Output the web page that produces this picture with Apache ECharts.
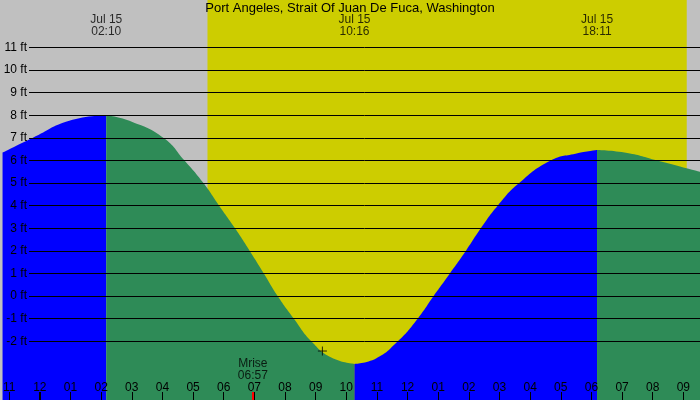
<!DOCTYPE html>
<html>
<head>
<meta charset="utf-8">
<script src="https://cdn.jsdelivr.net/npm/echarts@6/dist/echarts.min.js"></script>
<style>
  html, body { margin: 0; padding: 0; background: #c0c0c0; }
  #main { width: 700px; height: 400px; }
</style>
</head>
<body>
<div id="main"></div>
<script>
var FONT = 'Liberation Sans';

// axis ranges (hours from Jul 15 00:00, feet)
var xMin = -1.2177, xMax = 21.543;
var yMin = -4.597, yMax = 13.102;

var hourTicks = [-1,0,1,2,3,4,5,6,7,8,9,10,11,12,13,14,15,16,17,18,19,20,21];
var ftTicks = [-2,-1,0,1,2,3,4,5,6,7,8,9,10,11];

// daylight
var sunrise = 5.47, sunset = 21.11;

// tide curve, split into flood / ebb parts
var riseA = [[-1.218,6.35],[-0.242,7.0],[0.961,7.76],[2.167,8.0]];
var fallA = [[2.167,8.0],[3.0,7.72],[4.04,7],[4.72,6],[5.34,5],[5.85,4],[6.37,3],[6.85,2],[7.31,1],[7.76,0],[8.29,-1],[8.86,-2],[9.51,-2.72],[10.267,-3.0]];
var riseB = [[10.267,-3.0],[10.97,-2.76],[11.68,-2],[12.33,-1],[12.85,0],[13.38,1],[13.90,2],[14.39,3],[14.94,4],[15.64,5],[16.67,6],[17.48,6.3],[18.183,6.46]];
var fallB = [[18.183,6.46],[19.17,6.33],[20.14,6],[21.543,5.5]];

// high / low times
var extremeTimes = [2.167, 10.267, 18.183];
var extremeLabels = ['02:10', '10:16', '18:11'];
var extremeDate = 'Jul 15';

// moon
var moonrise = 6.95, moonriseLabel = '06:57';
var moonMark = [9.22, -2.43];

function hourFmt(v) {
    var h = ((Math.round(v) % 12) + 12) % 12;
    if (h === 0) h = 12;
    return (h < 10 ? '0' : '') + h;
}

function tideSeries(data, color) {
    return {
        type: 'line',
        xAxisIndex: 0, yAxisIndex: 0,
        data: data,
        smooth: 0.5,
        showSymbol: false,
        lineStyle: {width: 0},
        areaStyle: {color: color, opacity: 1, origin: 'start'},
        z: 3,
        silent: true
    };
}

function tickAxis(values, color, width, z) {
    return {
        gridIndex: 0, type: 'value', min: xMin, max: xMax, position: 'bottom', z: z,
        axisLine: {show: false, onZero: false},
        splitLine: {show: false},
        axisTick: {customValues: values, inside: true, length: 8, lineStyle: {color: color, width: width}},
        axisLabel: {show: false}
    };
}

var myChart = echarts.init(document.getElementById('main'));

var hourAxis = tickAxis(hourTicks, '#000', 1, 5);
hourAxis.axisLabel = {customValues: hourTicks, inside: true, margin: 6, formatter: hourFmt,
    color: '#000', fontFamily: FONT, fontSize: 12};

var option = {
    backgroundColor: '#c0c0c0',
    animation: false,
    title: {
        text: 'Port Angeles, Strait Of Juan De Fuca, Washington',
        left: 'center',
        top: 2,
        padding: 0,
        textStyle: {fontFamily: FONT, fontSize: 13, fontWeight: 'normal', color: '#000'}
    },
    grid: [
        {left: 0, right: 0, top: 0, bottom: 0},
        {left: 29, right: 0, top: 0, bottom: 0}
    ],
    xAxis: [
        hourAxis,
        tickAxis([0], '#000', 2, 6),
        tickAxis([moonrise], '#ff0000', 2, 6),
        {gridIndex: 1, type: 'value', min: xMin, max: xMax, show: false, axisLine: {onZero: false}}
    ],
    yAxis: [
        {gridIndex: 0, type: 'value', min: yMin, max: yMax, show: false},
        {
            gridIndex: 1, type: 'value', min: yMin, max: yMax, z: 5,
            axisLine: {show: false},
            axisTick: {show: false},
            splitLine: {show: false},
            axisLabel: {customValues: ftTicks, margin: 2, formatter: '{value} ft',
                color: '#000', fontFamily: FONT, fontSize: 12}
        }
    ],
    series: [
        {
            // daylight band
            type: 'line', xAxisIndex: 0, yAxisIndex: 0, data: [], z: 1, silent: true,
            markArea: {
                silent: true,
                itemStyle: {color: '#cdcd00'},
                data: [[{xAxis: sunrise}, {xAxis: sunset}]]
            }
        },
        {
            // foot lines
            type: 'line', xAxisIndex: 3, yAxisIndex: 1, data: [], z: 2, silent: true,
            markLine: {
                silent: true,
                symbol: 'none',
                label: {show: false},
                lineStyle: {color: '#000', width: 1, type: 'solid'},
                data: ftTicks.map(function (v) { return {yAxis: v}; })
            }
        },
        tideSeries(riseA, '#0000ff'),
        tideSeries(fallA, '#2e8b57'),
        tideSeries(riseB, '#0000ff'),
        tideSeries(fallB, '#2e8b57'),
        {
            type: 'scatter', xAxisIndex: 0, yAxisIndex: 0, z: 6, silent: true,
            symbolSize: 0,
            data: extremeTimes.map(function (t, i) { return {value: [t, 11.95], name: extremeLabels[i]}; }),
            label: {
                show: true, position: 'inside',
                formatter: function (p) { return extremeDate + '\n' + p.name; },
                color: '#000', fontFamily: FONT, fontSize: 12, lineHeight: 12
            }
        },
        {
            type: 'scatter', xAxisIndex: 0, yAxisIndex: 0, z: 6, silent: true,
            symbolSize: 0,
            data: [{value: [moonrise, -3.24], name: moonriseLabel}],
            label: {
                show: true, position: 'inside',
                formatter: function (p) { return 'Mrise\n' + p.name; },
                color: '#000', fontFamily: FONT, fontSize: 12, lineHeight: 12
            }
        },
        {
            type: 'scatter', xAxisIndex: 0, yAxisIndex: 0, z: 6, silent: true,
            symbol: 'path://M0,5L10,5M5,0L5,10',
            symbolSize: 9,
            itemStyle: {color: 'none', borderColor: '#000', borderWidth: 1},
            data: [moonMark]
        }
    ]
};

myChart.setOption(option);
</script>
</body>
</html>
